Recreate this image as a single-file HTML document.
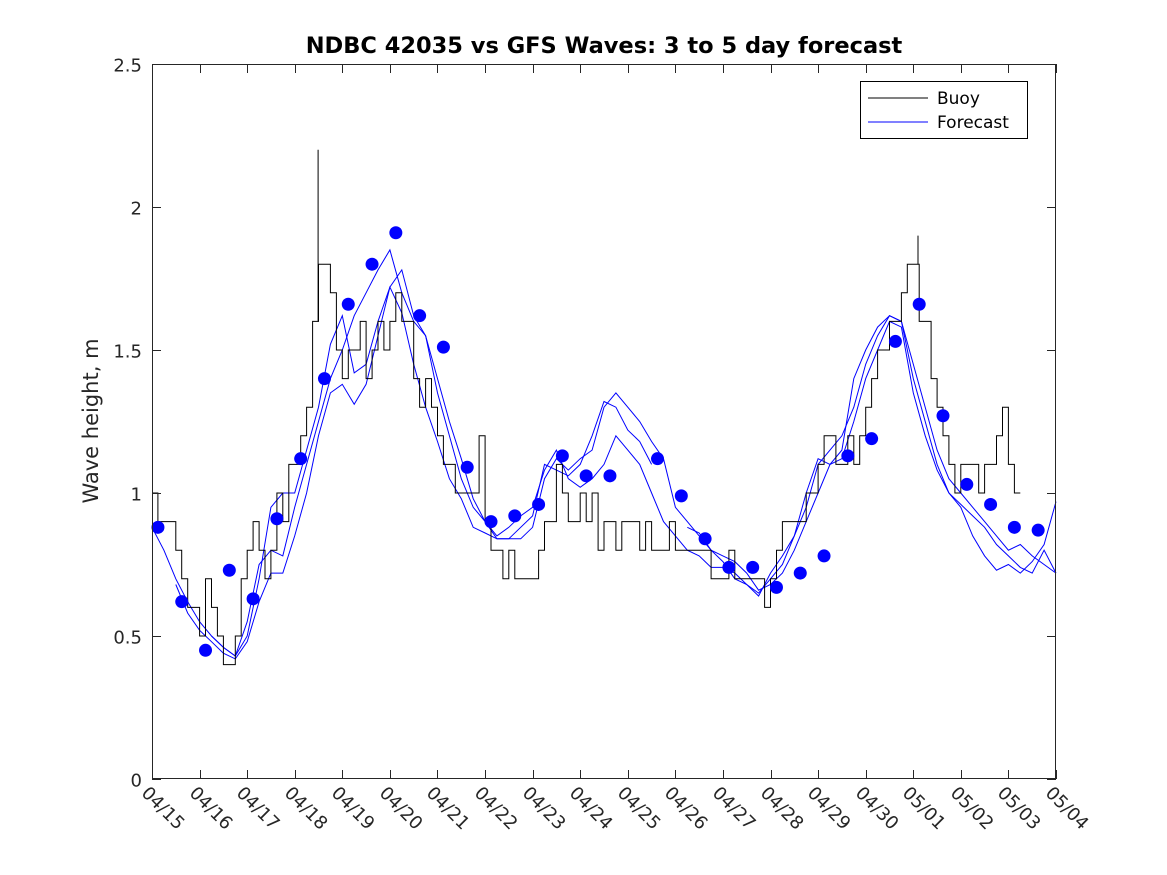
<!DOCTYPE html>
<html><head><meta charset="utf-8"><style>
html,body{margin:0;padding:0;background:#fff;}
svg{display:block;font-family:"DejaVu Sans","Liberation Sans",sans-serif;}
</style></head><body>
<svg id="chart" width="1167" height="875" viewBox="0 0 1167 875" xmlns="http://www.w3.org/2000/svg">
<rect width="1167" height="875" fill="#fff"/>
<text x="604" y="53" text-anchor="middle" font-size="22.5" font-weight="bold" fill="#000">NDBC 42035 vs GFS Waves: 3 to 5 day forecast</text>
<text transform="translate(98,421) rotate(-90)" text-anchor="middle" font-size="21" fill="#262626">Wave height, m</text>
<g id="plot"></g>
<g>
<rect x="860.5" y="81.5" width="167" height="57" fill="#fff" stroke="#000" stroke-width="1"/>
<line x1="868" y1="98" x2="928" y2="98" stroke="#000" stroke-width="1"/>
<text x="937" y="104" font-size="17" fill="#000">Buoy</text>
<line x1="868" y1="122" x2="928" y2="122" stroke="#0000ff" stroke-width="1"/>
<text x="937" y="128" font-size="17" fill="#000">Forecast</text>
</g>
</svg>
<script>
const xLabels=["04/15","04/16","04/17","04/18","04/19","04/20","04/21","04/22","04/23","04/24","04/25","04/26","04/27","04/28","04/29","04/30","05/01","05/02","05/03","05/04"];
const yTicks=[0,0.5,1,1.5,2,2.5];
// buoy: 3-hourly values from day 0
const buoy=[1.0,0.9,0.9,0.9,0.8,0.7,0.6,0.6,
0.5,0.7,0.6,0.5,0.4,0.4,0.5,0.7,
0.8,0.9,0.8,0.7,0.8,1.0,0.9,1.1,
1.1,1.2,1.3,1.6,1.8,1.8,1.7,1.5,
1.4,1.5,1.5,1.6,1.4,1.5,1.6,1.5,
1.6,1.7,1.6,1.6,1.4,1.3,1.4,1.3,
1.2,1.1,1.1,1.0,1.0,1.0,1.0,1.2,
0.9,0.8,0.8,0.7,0.8,0.7,0.7,0.7,
0.7,0.8,0.9,0.9,1.1,1.0,0.9,0.9,
1.0,0.9,1.0,0.8,0.9,0.9,0.8,0.9,
0.9,0.9,0.8,0.9,0.8,0.8,0.8,0.9,
0.8,0.8,0.8,0.8,0.8,0.8,0.7,0.7,
0.7,0.8,0.7,0.7,0.7,0.7,0.7,0.6,
0.7,0.8,0.9,0.9,0.9,0.9,1.0,1.0,
1.1,1.2,1.2,1.1,1.1,1.2,1.1,1.2,
1.3,1.4,1.5,1.5,1.6,1.6,1.7,1.8,
1.8,1.6,1.6,1.4,1.3,1.2,1.1,1.0,
1.1,1.1,1.1,1.0,1.1,1.1,1.2,1.3,
1.1,1.0];
// short spikes in buoy record
const spikeDays=[3.49,16.1];
const spikeVals=[2.2,1.9];
// forecast runs: 6-hourly from day 0
const fcA=[0.88,0.80,0.70,0.62,0.55,0.50,0.46,0.43,0.55,0.75,0.80,0.78,0.95,1.10,1.25,1.40,1.50,1.62,1.70,1.78,1.85,1.70,1.60,1.55,1.35,1.20,1.05,0.95,0.90,0.85,0.88,0.92,0.95,1.08,1.15,1.05,1.02,1.05,1.10,1.20,1.15,1.10,1.00,0.90,0.85,0.80,0.78,0.74,0.74,0.72,0.68,0.65,0.70,0.75,0.85,0.95,1.10,1.15,1.20,1.30,1.45,1.55,1.62,1.60,1.45,1.30,1.15,1.05,1.00,0.95,0.90,0.85,0.80,0.82,0.78,0.75,0.72];
const fcB=[null,null,0.68,0.58,0.52,0.48,0.44,0.42,0.48,0.62,0.72,0.72,0.85,1.00,1.20,1.35,1.38,1.31,1.38,1.55,1.72,1.78,1.62,1.55,1.40,1.25,1.12,0.98,0.90,0.84,0.84,0.84,0.88,1.05,1.12,1.08,1.12,1.15,1.30,1.35,1.30,1.25,1.18,1.12,0.95,0.90,0.85,0.80,0.78,0.76,0.72,0.66,0.68,0.72,0.80,0.90,1.00,1.10,1.15,1.40,1.50,1.58,1.62,1.60,1.40,1.25,1.10,1.00,0.96,0.92,0.88,0.82,0.78,0.74,0.72,0.80,0.72];
const fcC=[null,null,null,null,null,0.50,0.46,0.43,0.50,0.70,0.95,1.00,1.00,1.15,1.30,1.52,1.62,1.42,1.45,1.60,1.72,1.63,1.45,1.30,1.18,1.05,0.98,0.88,0.86,0.84,0.84,0.88,0.92,1.10,1.08,1.06,1.10,1.20,1.32,1.30,1.22,1.18,1.10,null,null,0.88,0.86,0.80,0.76,0.70,0.68,0.64,0.72,0.78,0.85,1.00,1.12,1.10,1.12,1.25,1.40,1.50,1.60,1.58,1.35,1.20,1.08,1.00,0.95,0.85,0.78,0.73,0.75,0.72,0.76,0.82,0.97];
// dots at day 0.125 + 0.5k
const dots=[0.88,0.62,0.45,0.73,0.63,0.91,1.12,1.40,1.66,1.80,1.91,1.62,1.51,1.09,0.90,0.92,0.96,1.13,1.06,1.06,null,1.12,0.99,0.84,0.74,0.74,0.67,0.72,0.78,1.13,1.19,1.53,1.66,1.27,1.03,0.96,0.88,0.87];

const X0=152,X1=1056,Y0=779,Y1=64,NS="http://www.w3.org/2000/svg";
const xs=d=>X0+d*(X1-X0)/19;
const ys=v=>Y0-v*(Y0-Y1)/2.5;
const plot=document.getElementById('plot');
function mk(t,a){const e=document.createElementNS(NS,t);for(const k in a)e.setAttribute(k,a[k]);return e;}

[fcA,fcB,fcC].forEach((arr,i)=>{
  let d="",pen=false;
  arr.forEach((v,j)=>{
    if(v===null){pen=false;return;}
    d+=(pen?"L":"M")+xs(j*0.25).toFixed(1)+" "+ys(v).toFixed(1);pen=true;
  });
  const p=mk('path',{d:d,fill:'none',stroke:'#0000ff','stroke-width':1});
  
  
  plot.appendChild(p);
});
{
  let d="";
  buoy.forEach((v,j)=>{
    const x0=xs(j*0.125),x1=xs((j+1)*0.125),y=ys(v);
    d+=(j===0?"M":"L")+x0.toFixed(1)+" "+y.toFixed(1)+"L"+x1.toFixed(1)+" "+y.toFixed(1);
  });
  spikeDays.forEach((sd,k)=>{
    const base=buoy[Math.floor(sd/0.125)];
    d+="M"+xs(sd).toFixed(1)+" "+ys(base).toFixed(1)+"V"+ys(spikeVals[k]).toFixed(1);
  });
  const p=mk('path',{d:d,fill:'none',stroke:'#000','stroke-width':1});
  
  
  plot.appendChild(p);
}
dots.forEach((v,k)=>{
  if(v===null)return;
  const c=mk('circle',{cx:xs(0.125+0.5*k),cy:ys(v),r:6.5,fill:'#0000ff'});
  
  
  plot.appendChild(c);
});
const box=mk('rect',{x:X0+0.5,y:Y1+0.5,width:X1-X0-1,height:Y0-Y1-1,fill:'none',stroke:'#262626','stroke-width':1});


plot.appendChild(box);
yTicks.forEach(v=>{
  const y=Math.round(ys(v))+0.5;
  const t=mk('path',{d:`M${X0} ${y}H${X0+9}M${X1} ${y}H${X1-9}`,stroke:'#262626','stroke-width':1});
  
  
  plot.appendChild(t);
  const l=mk('text',{x:X0-10,y:y+7,'text-anchor':'end','font-size':18,fill:'#262626'});
  l.textContent=String(v);
  
  
  plot.appendChild(l);
});
xLabels.forEach((s,i)=>{
  const x=Math.round(xs(i))+0.5;
  const t=mk('path',{d:`M${x} ${Y0}V${Y0-9}M${x} ${Y1}V${Y1+9}`,stroke:'#262626','stroke-width':1});
  
  
  plot.appendChild(t);
  const l=mk('text',{transform:`translate(${x-12},${Y0+15}) rotate(45)`,'font-size':18,fill:'#262626'});
  l.textContent=s;
  
  
  plot.appendChild(l);
});
</script>
</body></html>
